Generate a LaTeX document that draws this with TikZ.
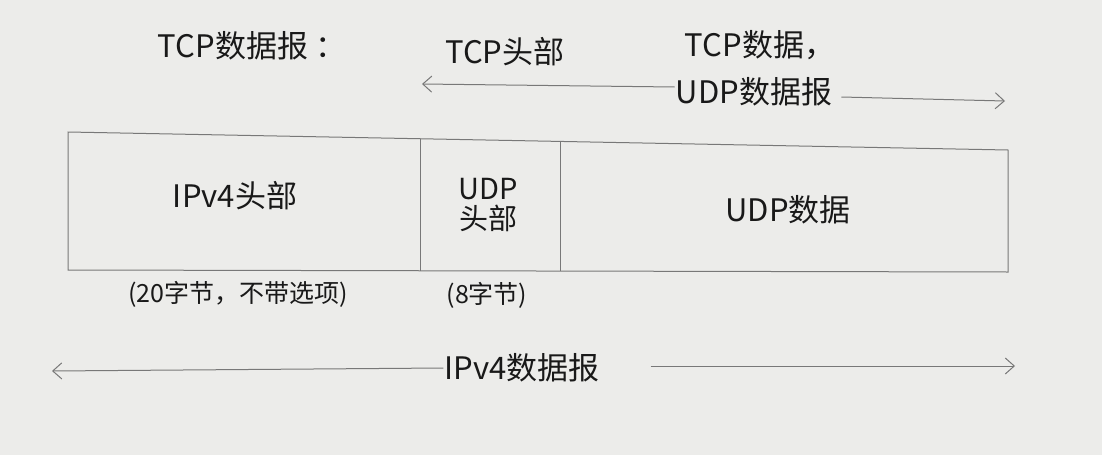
\documentclass[tikz,border=0pt]{standalone}
\usepackage{fontspec}
\newfontfamily\cjk{Noto Sans CJK SC}
\usetikzlibrary{arrows.meta}
\definecolor{paper}{RGB}{236,236,234}
\definecolor{pencil}{RGB}{120,120,120}
\definecolor{ink}{RGB}{25,25,25}
\tikzset{
  lbl/.style={font=\cjk\fontsize{31}{34}\selectfont, text=ink, inner sep=1pt, align=center},
  small/.style={font=\cjk\fontsize{25}{28}\selectfont, text=ink, inner sep=1pt},
  pline/.style={draw=pencil, line width=1pt},
  arr/.style={pline, -{Straight Barb[length=9pt,width=16pt]}},
}
\begin{document}
\begin{tikzpicture}[x=1pt,y=-1pt]
\fill[paper] (0,0) rectangle (1102,455);
\useasboundingbox (0,0) rectangle (1102,455);
% box
\coordinate (b1) at (68,132);
\coordinate (b2) at (1008,150);
\coordinate (b3) at (1008,272);
\coordinate (b4) at (68,270);
\draw[pline] (b1) -- (b2) -- (b3) -- (b4) -- cycle;
\coordinate (d1t) at (420,139); \coordinate (d1b) at (420,271);
\coordinate (d2t) at (560,142); \coordinate (d2b) at (560,271);
\draw[pline] (d1t) -- (d1b);
\draw[pline] (d2t) -- (d2b);
% box labels
\node[lbl] (ipv4h) at (235,196) {IPv4头部};
\node[lbl, font=\cjk\fontsize{29}{30}\selectfont] (udph) at (488,205) {UDP\\头部};
\node[lbl] (udpdata) at (788,210) {UDP数据};
\node[small] (n20) at (238,294) {(20字节，不带选项)};
\node[small] (n8) at (487,295) {(8字节)};
% top
\node[lbl] (title) at (252,46) {TCP数据报 ：};
\node[lbl] (tcph) at (505,52) {TCP头部};
\node[lbl] (tcpd) at (760,45) {TCP数据，};
\node[lbl] (udpd) at (754,92) {UDP数据报};
\coordinate (tL) at (422,84);
\coordinate (tR) at (1005,101);
\draw[arr] (udpd.west |- 0,87) -- (tL);
\draw[arr] ([xshift=8pt]udpd.east |- 0,97) -- (tR);
% bottom
\node[lbl] (ipv4d) at (522,368) {IPv4数据报};
\coordinate (bL) at (52,371);
\coordinate (bR) at (1015,366);
\draw[arr] (ipv4d.west |- 0,368) -- (bL);
\draw[arr] ([xshift=50pt]ipv4d.east |- 0,366) -- (bR);
\end{tikzpicture}
\end{document}
